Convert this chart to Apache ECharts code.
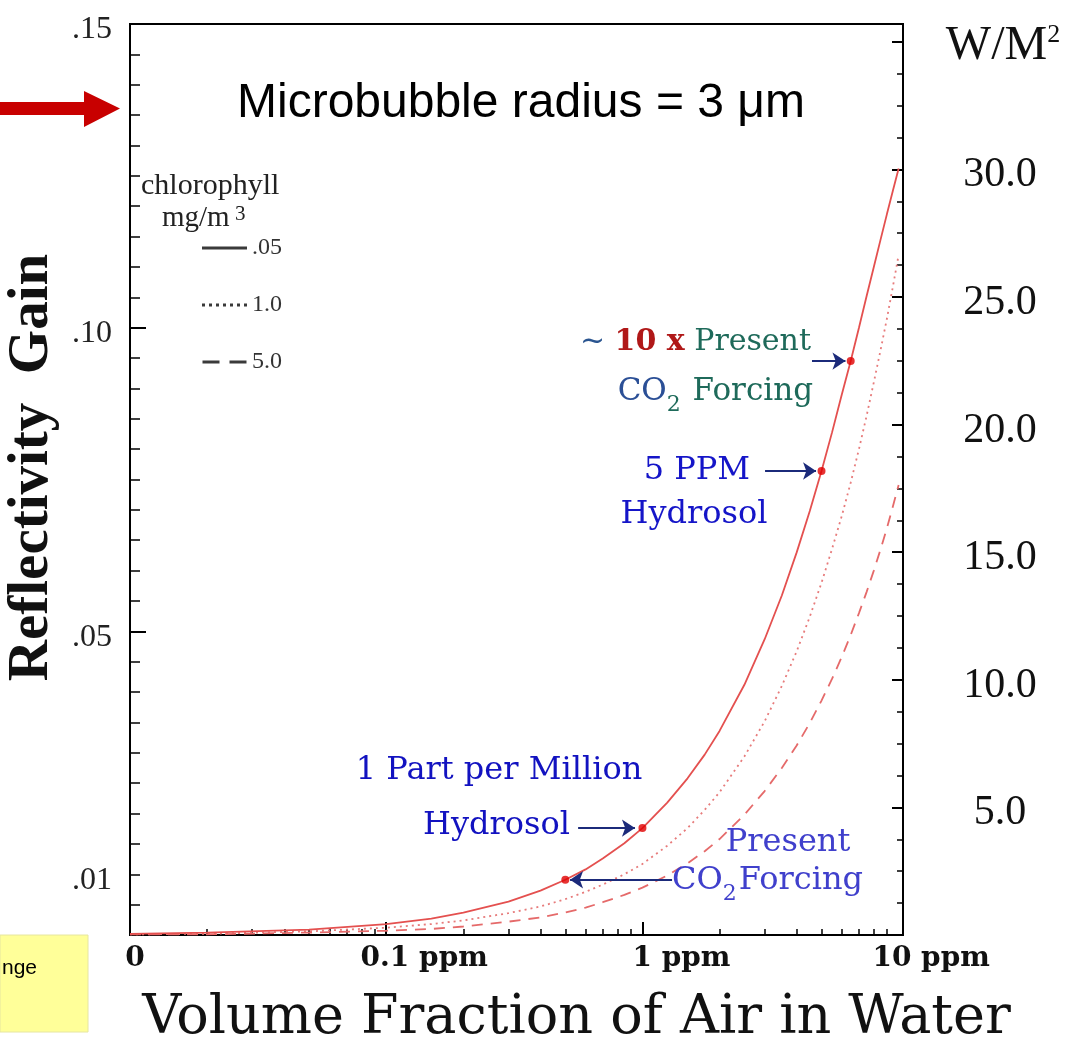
<!DOCTYPE html>
<html><head><meta charset="utf-8">
<script src="https://cdn.jsdelivr.net/npm/echarts@6/dist/echarts.min.js"></script>
<style>html,body{margin:0;padding:0;background:#fff}#c{width:1084px;height:1042px}</style>
</head><body><div id="c"></div>
<script>
// ---- data ----
const ppm = [0.01, 0.02, 0.05, 0.1, 0.15, 0.2, 0.3, 0.4, 0.5, 0.6, 0.7, 0.85, 1, 1.25, 1.5, 1.75, 2, 2.5, 3, 3.5, 4, 4.5, 5, 5.5, 6, 6.5, 7, 7.5, 8, 8.5, 9, 9.5, 10];
const gainChl005 = [0.0002, 0.0004, 0.0009, 0.0018, 0.0027, 0.0037, 0.0055, 0.0073, 0.0091, 0.0108, 0.0126, 0.0151, 0.0176, 0.0218, 0.0258, 0.0297, 0.0336, 0.0412, 0.0487, 0.0559, 0.0630, 0.0698, 0.0764, 0.0828, 0.0890, 0.0945, 0.1000, 0.1052, 0.1100, 0.1145, 0.1187, 0.1226, 0.1262];
const gainChl10  = [0.0001, 0.0002, 0.0006, 0.0012, 0.0018, 0.0024, 0.0036, 0.0047, 0.0059, 0.0071, 0.0083, 0.0100, 0.0117, 0.0147, 0.0176, 0.0206, 0.0235, 0.0294, 0.0352, 0.0410, 0.0467, 0.0524, 0.0580, 0.0636, 0.0690, 0.0745, 0.0800, 0.0855, 0.0910, 0.0963, 0.1015, 0.1068, 0.1120];
const gainChl50  = [0.0001, 0.0001, 0.0004, 0.0007, 0.0010, 0.0014, 0.0022, 0.0029, 0.0037, 0.0045, 0.0054, 0.0066, 0.0078, 0.0098, 0.0118, 0.0138, 0.0158, 0.0198, 0.0237, 0.0275, 0.0312, 0.0349, 0.0386, 0.0422, 0.0458, 0.0494, 0.0530, 0.0565, 0.0600, 0.0635, 0.0670, 0.0706, 0.0741];
const markPpm  = [0.5, 1, 5, 6.5];
const markGain = [0.0091, 0.0176, 0.0764, 0.0945];
// arrows: [fromPpm, fromGain, toPpm, toGain]
const arrowPairs = [[4.59, 0.0945, 6.2, 0.0945], [3.01, 0.0764, 4.76, 0.0764], [0.561, 0.0176, 0.935, 0.0176], [1.305, 0.0091, 0.522, 0.0091]];
const legendNames = ['.05', '1.0', '5.0'];
const xTickPpm = [0.01, 0.1, 1, 10];
const xTickLabels = ['0', '0.1 ppm', '1 ppm', '10 ppm'];
const xMinorPpm = [0.02,0.03,0.04,0.05,0.06,0.07,0.08,0.09, 0.2,0.3,0.4,0.5,0.6,0.7,0.8,0.9, 2,3,4,5,6,7,8,9];
const leftTicks = [0.01, 0.05, 0.10, 0.15];
const rightTicks = [5, 10, 15, 20, 25, 30];

// ---- chart ----
const L = Math.log10;
const serif = 'Liberation Serif';
const dvs = 'DejaVu Serif';
const chart = echarts.init(document.getElementById('c'), null, {renderer: 'canvas'});
const lineData = arr => ppm.map((p, i) => [L(p), arr[i]]);

function txt(text, x, y, align, rich, extra) {
  return {type: 'text', silent: true, z: 20, style: Object.assign({text: text, x: x, y: y, align: align, verticalAlign: 'middle', rich: rich}, extra || {})};
}
const annRich = (size, colors) => {
  const r = {};
  Object.keys(colors).forEach(k => { r[k] = {fontFamily: dvs, fontSize: size, fill: colors[k], lineHeight: size + 4}; });
  return r;
};
const rich1a = annRich(30, {t: '#2a5590', r: '#b01818', g: '#1e6a5a'});
rich1a.r.fontWeight = 'bold';
const rich1b = annRich(31, {b: '#2b4f96', g: '#1e6a5a'});
rich1b.s = {fontFamily: dvs, fontSize: 22, fill: '#1e6a5a', verticalAlign: 'top', padding: [20, 2, 0, 0], lineHeight: 22};
const rich4b = annRich(32, {b: '#4040cc'});
rich4b.s = {fontFamily: dvs, fontSize: 22, fill: '#4040cc', verticalAlign: 'top', padding: [20, 2, 0, 0], lineHeight: 22};

// legend icons (drawn as filled paths in a 45 x 3 box)
const legendIcons = [
  'path://M0,0H45V3H0Z',
  'path://M0,0H3V3H0Z M7,0H10V3H7Z M14,0H17V3H14Z M21,0H24V3H21Z M28,0H31V3H28Z M35,0H38V3H35Z M42,0H45V3H42Z',
  'path://M0,0H17V3H0Z M27,0H44V3H27Z'
];

const option = {
  animation: false,
  backgroundColor: '#fff',
  grid: {left: 130, right: 181, top: 24, bottom: 107, show: true, borderColor: '#000', borderWidth: 2, outerBoundsMode: 'none'},
  title: [
    {text: 'Microbubble radius = 3 μm', left: 237, top: 80, padding: 0,
     textStyle: {fontFamily: 'Liberation Sans', fontSize: 48, fontWeight: 'normal', color: '#000'}},
    {text: 'chlorophyll', left: 141, top: 171, padding: 0,
     textStyle: {fontFamily: serif, fontSize: 30, fontWeight: 'normal', color: '#222'}},
    {text: '{a|mg/m}{b| 3}', left: 162, top: 204, padding: 0,
     textStyle: {fontWeight: 'normal', rich: {a: {fontFamily: serif, fontSize: 29, fontWeight: 'normal', color: '#222'},
       b: {fontFamily: serif, fontSize: 21, fontWeight: 'normal', color: '#222', verticalAlign: 'top'}}}}
  ],
  legend: {
    data: legendNames.map((n, i) => ({name: n, icon: legendIcons[i], itemStyle: {color: '#3a3a3a', opacity: 1}})),
    orient: 'vertical', left: 197, top: 231, itemWidth: 45, itemHeight: 3, itemGap: 33,
    selectedMode: false,
    textStyle: {fontFamily: serif, fontSize: 24, color: '#333'}
  },
  xAxis: [
    {type: 'value', min: -2, max: 1.017, position: 'bottom',
     name: 'Volume Fraction of Air in Water', nameLocation: 'middle', nameGap: 57,
     nameTextStyle: {fontFamily: dvs, fontSize: 54, color: '#111', padding: [0, 0, 0, 120]},
     axisLine: {show: true, onZero: false, lineStyle: {color: '#000', width: 2}},
     axisTick: {show: true, inside: true, length: 13, customValues: [L(xTickPpm[1]), L(xTickPpm[2])], lineStyle: {color: '#000', width: 2}},
     axisLabel: {show: true, customValues: xTickPpm.map(L), margin: 10,
       formatter: v => { const i = Math.round(v) + 2; return '{s' + i + '| }{n|' + xTickLabels[i] + '}'; },
       rich: {n: {fontFamily: dvs, fontWeight: 'bold', fontSize: 28, color: '#111'},
              s0: {width: 10}, s1: {width: 76}, s2: {width: 78}, s3: {width: 65}}},
     splitLine: {show: false}},
    {type: 'value', min: -2, max: 1.017, position: 'bottom',
     axisLine: {show: false, onZero: false},
     axisTick: {show: true, inside: true, length: 6, customValues: xMinorPpm.map(L), lineStyle: {color: '#000', width: 1.5}},
     axisLabel: {show: false}, splitLine: {show: false}}
  ],
  yAxis: [
    {type: 'value', min: 0, max: 0.15, interval: 0.05, position: 'left',
     name: 'Reflectivity  Gain', nameLocation: 'middle', nameGap: 50,
     nameTextStyle: {fontFamily: serif, fontWeight: 'bold', fontSize: 57, color: '#111', padding: [0, 0, 0, 24]},
     axisLine: {show: true, onZero: false, lineStyle: {color: '#000', width: 2}},
     axisTick: {show: true, inside: true, length: 16, lineStyle: {color: '#000', width: 2}},
     minorTick: {show: true, splitNumber: 10, length: 10, lineStyle: {color: '#000', width: 1.5}},
     axisLabel: {show: true, customValues: leftTicks, margin: 18,
       formatter: v => '{v|' + v.toFixed(2).replace(/^0/, '') + '}',
       rich: {v: {fontFamily: serif, fontSize: 32, color: '#222', padding: [12, 0, 0, 0]}}},
     splitLine: {show: false}},
    {type: 'value', min: 0, max: 35.7, interval: 5, position: 'right',
     name: '{a|W/M}{b|2}', nameLocation: 'end', nameGap: -22,
     nameTextStyle: {align: 'center', verticalAlign: 'middle', padding: [0, 0, 0, 200],
       rich: {a: {fontFamily: serif, fontSize: 48, color: '#111'}, b: {fontFamily: serif, fontSize: 26, color: '#111', verticalAlign: 'top'}}},
     axisLine: {show: true, onZero: false, lineStyle: {color: '#000', width: 2}},
     axisTick: {show: true, inside: true, length: 11, lineStyle: {color: '#000', width: 2}},
     minorTick: {show: true, splitNumber: 4, length: 6, lineStyle: {color: '#000', width: 1.5}},
     axisLabel: {show: true, customValues: rightTicks, margin: 97, align: 'center',
       formatter: v => '{v|' + v.toFixed(1) + '}',
       rich: {v: {fontFamily: serif, fontSize: 42, color: '#111', padding: [12, 0, 0, 0]}}},
     splitLine: {show: false}}
  ],
  series: [
    {name: legendNames[0], type: 'line', xAxisIndex: 0, yAxisIndex: 0, data: lineData(gainChl005), symbol: 'none', showSymbol: false, smooth: false,
     color: '#e4504f', lineStyle: {color: '#e4504f', width: 1.8, type: 'solid'}, z: 4},
    {name: legendNames[1], type: 'line', xAxisIndex: 0, yAxisIndex: 0, data: lineData(gainChl10), symbol: 'none', showSymbol: false, smooth: false,
     color: '#e77b7b', lineStyle: {color: '#e77b7b', width: 1.8, type: [2, 4]}, z: 3},
    {name: legendNames[2], type: 'line', xAxisIndex: 0, yAxisIndex: 0, data: lineData(gainChl50), symbol: 'none', showSymbol: false, smooth: false,
     color: '#e56a6a', lineStyle: {color: '#e56a6a', width: 1.8, type: [11, 8]}, z: 3},
    {name: 'marks', type: 'scatter', xAxisIndex: 0, yAxisIndex: 0, data: markPpm.map((p, i) => [L(p), markGain[i]]),
     symbolSize: 8, itemStyle: {color: '#e00000'}, z: 6, silent: true,
     markLine: {silent: true, symbol: ['none', 'arrow'], symbolSize: 13, label: {show: false},
       lineStyle: {color: '#1b2a7a', width: 2, type: 'solid'},
       data: arrowPairs.map(a => [{coord: [L(a[0]), a[1]]}, {coord: [L(a[2]), a[3]]}])}}
  ],
  graphic: [
    {type: 'polygon', silent: true, shape: {points: [[0, 102], [84, 102], [84, 91], [120, 108.5], [84, 127], [84, 115], [0, 115]]}, style: {fill: '#c80000'}},
    {type: 'rect', silent: true, shape: {x: 0, y: 935, width: 88, height: 97}, style: {fill: '#ffff99', stroke: '#e6e6a0', lineWidth: 1}},
    txt('nge', 2, 968, 'left', null, {font: '21px "Liberation Sans"', fill: '#000'}),
    txt('{t|~ }{r|10 x}{g| Present}', 811, 342, 'right', rich1a),
    txt('{b|CO}{s|2}{g| Forcing}', 813, 392, 'right', rich1b),
    txt('5 PPM', 750, 471, 'right', null, {font: '32px "DejaVu Serif"', fill: '#1515c8'}),
    txt('Hydrosol', 694, 515, 'center', null, {font: '32px "DejaVu Serif"', fill: '#1515c8'}),
    txt('1 Part per Million', 499, 771, 'center', null, {font: '32px "DejaVu Serif"', fill: '#1212c0'}),
    txt('Hydrosol', 570, 826, 'right', null, {font: '32px "DejaVu Serif"', fill: '#1212c0'}),
    txt('Present', 788, 843, 'center', null, {font: '32px "DejaVu Serif"', fill: '#4040cc'}),
    txt('{b|CO}{s|2}{b|Forcing}', 672, 881, 'left', rich4b)
  ]
};
chart.setOption(option);
</script></body></html>
